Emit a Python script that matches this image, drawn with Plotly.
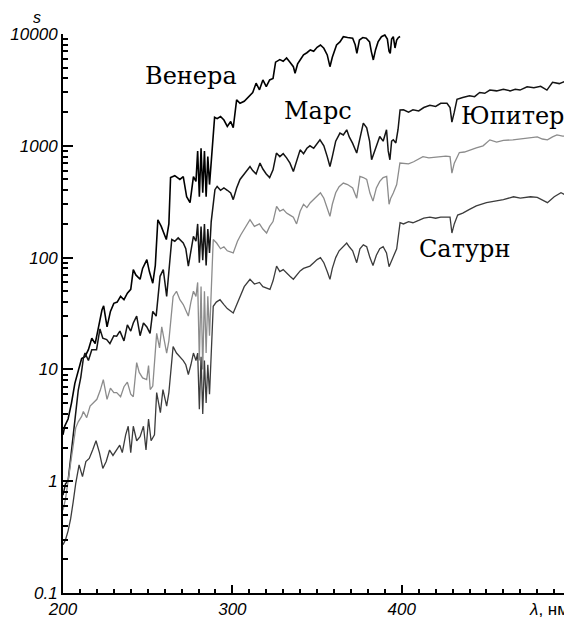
import math
import plotly.graph_objects as go

# ---------------- data ----------------
venus_wl = [200, 201, 203, 205, 207, 209, 211, 213, 215, 217, 219, 221, 223, 224, 226, 228, 230, 232, 234, 236,
            238, 240, 241.5, 243, 245.5, 247, 249.5, 251, 253, 254.5, 256, 258, 260, 261, 262.5, 263.5, 266, 269,
            271, 273, 275, 277, 278.5, 279.5, 280.5, 281.5, 282.5, 283.5, 284.5, 285.5, 286.5, 288, 289.5, 291,
            293, 295, 297, 299, 300.5, 302.5, 304.5, 307, 310, 312, 314, 316, 318, 320, 322, 324, 325.5, 328, 330,
            332, 334, 336, 337, 338.5, 340, 342, 344, 346, 348, 350, 352, 354, 356, 357.6, 359, 361.5, 363.5,
            365.5, 368, 371, 372.5, 373.5, 375, 377, 379, 381, 382, 383.2, 384.5, 386, 388, 390, 391.5, 392.5,
            393.2, 394, 395, 396, 397, 398, 399]
venus_s = [2.6, 3.1, 3.6, 5.0, 7.5, 10, 12.5, 13, 15, 19, 17, 24, 34, 37, 24, 33, 39, 40, 45, 42,
           48, 52, 78, 70, 64, 80, 96, 75, 59, 85, 218, 190, 160, 145, 200, 520, 540, 500,
           530, 350, 310, 530, 480, 900, 350, 950, 380, 900, 350, 800, 450, 920, 1800, 1750,
           1830, 1700, 1490, 1650, 1450, 2575, 2400, 2500, 2760, 3000, 3630, 3170, 3880, 3380, 3880, 4000, 5600, 5900, 5700,
           6100, 5600, 5100, 4460, 5400, 5860, 6500, 6800, 7200, 7000, 7600, 7970, 7450, 6500, 5100, 6200, 7970, 8500,
           9460, 9300, 9150, 8000, 6720, 8840, 9300, 9150, 8500, 7000, 5860, 7200, 8500, 9460, 9800, 9000, 7000,
           6720, 9000, 9460, 7500, 8840, 9300, 9500]

mars_wl = [200, 201.5, 203, 204.5, 206, 207.5, 209, 210.5, 212, 213, 215, 217, 219.8, 221.8, 223.5, 225.8, 227.7,
           230, 231.7, 233.6, 236, 238, 240, 241.5, 243.5, 245.5, 247.5, 249.5, 251.4, 253, 255, 257.3, 259.2,
           261.2, 262.2, 264.2, 266, 268, 271, 272.5, 274, 275.5, 277, 278.5, 279.5, 280.5, 281.5, 282.5, 283.5,
           284.5, 285.5, 286.5, 287.5, 289.7, 291, 293, 295, 297, 299, 300.5, 302.5, 304.5, 307, 310.4, 312, 314,
           316.3, 318, 320, 322, 324, 326, 328, 330, 332, 334, 336, 337.5, 340, 342, 344, 345.8, 348, 351.7, 354,
           356, 357.6, 359, 361, 363.5, 365.5, 367.5, 369, 371, 373.4, 375.5, 377.3, 379.3, 381, 382.2, 383.5,
           385, 387, 389, 391, 392, 393, 394, 395, 396.5, 397.8, 399, 401, 404, 406.6, 410, 413, 416.6, 420, 423,
           426.7, 428.5, 429.6, 431, 432.6, 436, 440, 443, 446, 449, 452, 456, 460, 464, 467, 469.8, 474, 478,
           482, 485.7, 489, 493, 496, 499, 500.5]
mars_s = [0.75, 0.95, 1.0, 1.6, 2.9, 4.5, 6.5, 8.5, 12.5, 14, 12, 15, 15, 23, 19, 18.5, 17,
          20, 19.8, 22, 18, 25, 22, 26, 30, 20, 26, 24, 21, 33, 30, 68, 78,
          45, 64, 145, 140, 150, 135, 120, 84, 110, 155, 140, 200, 90, 190, 95, 200,
          85, 180, 110, 210, 405, 433, 400, 420, 400, 378, 330, 420, 500, 560, 653, 600, 560,
          700, 620, 560, 520, 610, 861, 800, 850, 780, 700, 589, 700, 920, 850, 950, 1000, 950, 1132, 1000,
          800, 653, 800, 1100, 1298, 1250, 1390, 1200, 1050, 861, 1200, 1596, 1450, 1100, 750, 850,
          1000, 1211, 1100, 1390, 900, 750, 1100, 1132, 1060, 1400, 2094, 2100, 2000, 2100, 2050, 2200, 2300, 2250, 2400,
          2400, 2200, 1630, 2000, 2600, 2700, 2800, 2750, 3000, 2950, 3150, 3100, 3200, 3100, 3200, 3150, 3370, 3300,
          3400, 3150, 3700, 3600, 3750, 3500, 3550]

jupiter_wl = [200, 201.5, 203, 204.5, 206, 207.5, 209, 211, 212, 214, 216, 218, 220, 222, 223.8, 226, 228, 230,
              231.7, 234, 236, 238, 240, 241.5, 243.5, 245, 247, 249.4, 250.5, 251.5, 253, 255.3, 257, 258.3,
              261.2, 262.5, 265, 267, 269, 271, 272.5, 274, 275.5, 277, 278.5, 279.5, 280.5, 281.5, 282.5,
              283.5, 284.5, 285.5, 286.5, 287.5, 288.7, 290.7, 293, 295, 297, 300.5, 303, 305, 307, 310.4, 313,
              316, 318, 320.2, 322, 324, 326.1, 328, 330, 332, 334, 336, 337.9, 340, 342, 344, 346, 347.8, 350,
              352, 354, 356, 357.6, 359, 361, 363, 365.5, 368, 371, 373.4, 375.3, 377.3, 379.3, 381.2, 383, 385,
              387, 389, 391.1, 392.5, 393.5, 395, 397, 398.9, 401, 404, 407, 410, 412.5, 416, 419, 422.5, 426,
              428.5, 429.6, 431, 434, 437, 440, 444, 448, 452, 456, 460, 465.6, 470, 475, 480, 483, 486, 489,
              491.6, 495, 499, 500.5]
jupiter_s = [0.55, 0.7, 1.0, 1.5, 2.2, 3.0, 3.4, 3.8, 4.2, 3.7, 4.7, 5.0, 5.4, 6.5, 8.1, 5.4, 6.8, 6.2,
             6.2, 5.7, 7.0, 7.7, 6.0, 5.7, 11.5, 9.4, 8.4, 8.1, 10.8, 6.6, 7.1, 21, 15.6, 24,
             14, 18, 45, 50, 42, 38, 34, 30, 40, 50, 45, 60, 12, 55, 10,
             50, 14, 45, 20, 60, 145, 135, 120, 125, 115, 110, 140, 160, 180, 218, 190,
             200, 180, 166, 190, 210, 287, 260, 270, 250, 240, 230, 200, 260, 300, 280, 310, 330, 352,
             380, 340, 280, 234, 300, 380, 430, 464, 450, 420, 340, 532, 520, 500, 378, 320, 420,
             480, 520, 532, 300, 340, 378, 450, 702, 700, 690, 720, 760, 800, 780, 790, 790, 810,
             800, 570, 700, 870, 880, 920, 960, 1000, 1130, 1080, 1120, 1130, 1150, 1180, 1200, 1150, 1130, 1200,
             1250, 1220, 1200, 1210]

saturn_wl = [200, 201.5, 203, 204.5, 206, 207.5, 209.5, 211.5, 213.5, 215.5, 217.5, 219.5, 221.5, 223.5, 225.5,
             227.5, 229.5, 231.5, 233.5, 235, 237, 238.5, 240, 241.5, 243.5, 245.5, 247.5, 249, 250.5, 252, 254,
             255.3, 257.5, 259, 261.2, 262.5, 265, 267, 269, 271, 272.5, 274, 275.5, 277, 278.5, 279.5, 280.5,
             281.5, 282.5, 283.5, 284.5, 285.5, 286.5, 287.5, 288.7, 290.5, 292.7, 295, 297, 300.5, 303, 305,
             307, 310.4, 313, 316, 318, 322.2, 324, 326.1, 328, 330, 332, 334, 336, 338, 340, 342, 345.8, 348,
             350, 352, 354, 356, 357.6, 359, 361, 363, 365.5, 367.5, 369, 371, 373.4, 375.3, 377.3, 379.3, 381.2,
             383, 385, 387, 389, 391, 392.5, 393.5, 395, 397, 399, 401, 404, 406.6, 410, 413, 416.6, 420, 423,
             428.5, 429.6, 431, 433, 436, 440, 444, 450, 455, 460, 466, 470, 476, 480, 486, 490, 494, 497, 500.5]
saturn_s = [0.27, 0.3, 0.36, 0.46, 0.65, 0.95, 1.4, 1.1, 1.5, 1.6, 1.9, 2.3, 1.8, 1.3, 1.5,
            1.9, 1.7, 1.9, 2.1, 1.8, 2.6, 3.1, 1.8, 3.1, 2.3, 2.5, 3.1, 1.9, 3.6, 2.3, 2.6,
            6.2, 4.1, 6.6, 4.7, 6.2, 16, 14, 13, 12, 11, 9, 11, 14, 12, 14, 4.4,
            13, 4.0, 12, 5, 11, 6, 15, 36.7, 40, 42, 38, 35, 32, 40, 48,
            55, 64, 58, 60, 55, 52, 62, 84, 75, 78, 72, 68, 64, 70, 76, 80, 84, 90,
            96, 100, 90, 75, 64, 80, 100, 115, 125, 135, 125, 115, 90, 120, 130, 125, 100,
            85, 105, 120, 125, 110, 83, 90, 100, 120, 205, 200, 210, 205, 215, 225, 230, 225, 230,
            230, 166, 200, 240, 250, 270, 290, 310, 320, 330, 350, 340, 350, 345, 310, 350, 380, 360, 340]

y_tickvals = [0.1, 1, 10, 100, 1000, 10000]
y_ticktext = ["0.1", "1", "10", "100", "1000", "10000"]
x_tickvals = [200, 300, 400]
x_ticktext = ["200", "300", "400"]

labels = ["Венера", "Марс", "Юпитер", "Сатурн"]
label_x = [275.6, 350.5, 465.6, 437.3]
label_y = [4230, 2050, 1860, 120]

# ---------------- figure ----------------
fig = go.Figure()
series = [
    (venus_wl, venus_s, "#000000", 1.6),
    (mars_wl, mars_s, "#141414", 1.5),
    (jupiter_wl, jupiter_s, "#8c8c8c", 1.3),
    (saturn_wl, saturn_s, "#3c3c3c", 1.3),
]
for (wl, s, col, w), name in zip(series, labels):
    fig.add_trace(go.Scatter(x=wl, y=s, mode="lines", name=name,
                             line=dict(color=col, width=w), showlegend=False))

for t, x, y in zip(labels, label_x, label_y):
    fig.add_annotation(x=x, y=math.log10(y), xref="x", yref="y", text=t,
                       showarrow=False, font=dict(family="DejaVu Serif", size=24, color="black"),
                       xanchor="center", yanchor="middle")

fig.add_annotation(x=0, y=1, xref="paper", yref="paper", text="<i>s</i>", showarrow=False,
                   xanchor="center", yanchor="top", xshift=-26, yshift=26, height=15, valign="middle",
                   font=dict(family="Liberation Sans", size=16, color="black"))
fig.add_annotation(x=0, y=0, xref="paper", yref="paper", text="<i>λ</i>, нм", showarrow=False,
                   xanchor="left", yanchor="middle", xshift=464, yshift=-16,
                   font=dict(family="Liberation Sans", size=17, color="black"))

minor_y = [m * 10 ** e for e in range(-1, 4) for m in range(2, 10)]

fig.update_xaxes(range=[200, 500.5], showline=True, linecolor="black", linewidth=2,
                 showgrid=False, zeroline=False, ticks="inside", ticklen=8, tickwidth=1.5,
                 tickcolor="black", tickvals=x_tickvals, ticktext=x_ticktext,
                 tickfont=dict(family="Liberation Sans", size=17, color="black", style="italic"),
                 minor=dict(ticks="inside", ticklen=4, tickwidth=1.5, tickcolor="black", dtick=10,
                            showgrid=False))
fig.update_yaxes(type="log", range=[-1, 4], showline=True, linecolor="black", linewidth=2,
                 showgrid=False, zeroline=False, ticks="inside", ticklen=10, tickwidth=1.5,
                 tickcolor="black", tickvals=y_tickvals, ticktext=y_ticktext,
                 tickfont=dict(family="Liberation Sans", size=17, color="black", style="italic"),
                 minor=dict(ticks="inside", ticklen=5, tickwidth=1.5, tickcolor="black",
                            tickvals=minor_y, showgrid=False))

# page body has an 8px margin, so the figure is 8px smaller and the margins 8px less
fig.update_layout(width=564, height=613, margin=dict(l=55, r=0, t=26, b=28),
                  paper_bgcolor="white", plot_bgcolor="white", showlegend=False)

fig.write_html("out.html")
